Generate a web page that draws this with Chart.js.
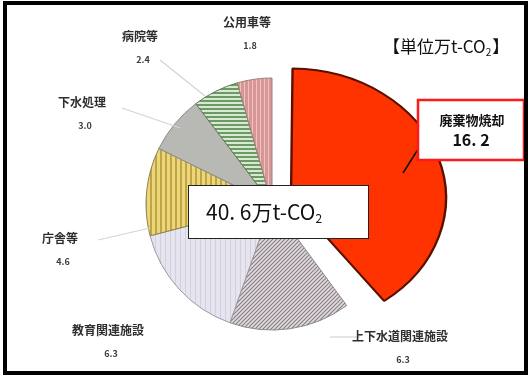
<!DOCTYPE html>
<html lang="ja">
<head>
<meta charset="utf-8">
<script src="https://cdn.jsdelivr.net/npm/chart.js@4"></script>
<style>
  html, body { margin: 0; padding: 0; background: #fff; }
  #wrap { width: 529px; height: 376px; }
</style>
</head>
<body>
<div id="wrap"><canvas id="pie" width="529" height="376"></canvas></div>
<script>
// 排出量の内訳（万t-CO2）
const categories = ['廃棄物焼却', '上下水道関連施設', '教育関連施設', '庁舎等', '下水処理', '病院等', '公用車等'];
const values = [16.2, 6.3, 6.3, 4.6, 3.0, 2.4, 1.8];

// ラベルの配置（名称の中心座標）
const labelPos = [null, [400, 336], [108, 330], [60, 238], [82, 102], [140, 36], [247, 22]];
// 引き出し線
const leaders = [null, [[330, 337], [360, 337]], null, [[98, 240], [150, 228]], [[122, 108], [180, 128]], [[160, 60], [205, 96]], null];

const JP = "'Noto Sans CJK JP', 'Noto Sans', sans-serif";

function makePattern(w, h, draw) {
  const c = document.createElement('canvas');
  c.width = w; c.height = h;
  const g = c.getContext('2d');
  draw(g, w, h);
  return g.createPattern(c, 'repeat');
}

const fills = [
  '#ff3300',
  makePattern(4, 4, (g) => {
    g.fillStyle = '#e2dce2'; g.fillRect(0, 0, 4, 4);
    g.strokeStyle = '#8a8084'; g.lineWidth = 1.2;
    g.beginPath(); g.moveTo(-1, 5); g.lineTo(5, -1); g.stroke();
    g.beginPath(); g.moveTo(-1, 1); g.lineTo(1, -1); g.stroke();
    g.beginPath(); g.moveTo(3, 5); g.lineTo(5, 3); g.stroke();
  }),
  makePattern(5, 5, (g) => {
    g.fillStyle = '#e6e5ef'; g.fillRect(0, 0, 5, 5);
    g.fillStyle = '#d2d0de'; g.fillRect(0, 0, 1, 5);
  }),
  makePattern(5, 5, (g) => {
    g.fillStyle = '#ecd778'; g.fillRect(0, 0, 5, 5);
    g.fillStyle = '#bfa548'; g.fillRect(0, 0, 2, 5);
  }),
  '#b8b8b4',
  makePattern(4, 4, (g) => {
    g.fillStyle = '#d6ead0'; g.fillRect(0, 0, 4, 4);
    g.fillStyle = '#6e9866'; g.fillRect(0, 0, 4, 2);
  }),
  makePattern(4, 4, (g) => {
    g.fillStyle = '#d99696'; g.fillRect(0, 0, 4, 4);
    g.fillStyle = '#ecc2c2'; g.fillRect(0, 0, 1, 4);
  })
];

function fmt(v) { return v.toFixed(1); }

// 切り出した扇形（廃棄物焼却）は横に広げて描く
const widenFirst = {
  id: 'widenFirst',
  afterDatasetsUpdate(chart) {
    const arc = chart.getDatasetMeta(0).data[0];
    if (!arc || arc._widened) return;
    arc.outerRadius -= 5;
    const draw = arc.draw;
    arc.draw = function (ctx) {
      const half = (this.startAngle + this.endAngle) / 2;
      const cx = this.x + Math.cos(half) * (this.options.offset || 0) / 4;
      ctx.save();
      ctx.translate(cx, 0);
      ctx.scale(1.2, 1);
      ctx.translate(-cx, 0);
      draw.call(this, ctx);
      ctx.restore();
    };
    arc._widened = true;
  }
};

const overlay = {
  id: 'overlay',
  beforeDraw(chart) {
    const ctx = chart.ctx;
    ctx.save();
    ctx.fillStyle = '#fff';
    ctx.fillRect(0, 0, chart.width, chart.height);
    ctx.restore();
  },
  afterDraw(chart) {
    const ctx = chart.ctx;
    ctx.save();

    // 引き出し線（薄いグレー）
    ctx.strokeStyle = '#d4d4d4';
    ctx.lineWidth = 1.2;
    leaders.forEach(l => {
      if (!l) return;
      ctx.beginPath(); ctx.moveTo(l[0][0], l[0][1]); ctx.lineTo(l[1][0], l[1][1]); ctx.stroke();
    });

    // 各項目の名称と値
    ctx.textAlign = 'center';
    ctx.textBaseline = 'middle';
    categories.forEach((name, i) => {
      const p = labelPos[i];
      if (!p) return;
      ctx.fillStyle = '#2e2e2e';
      ctx.font = `bold 12px ${JP}`;
      ctx.fillText(name, p[0], p[1]);
      ctx.font = `bold 9px ${JP}`;
      ctx.fillStyle = '#3c3c3c';
      ctx.fillText(fmt(values[i]), p[0] + 3, p[1] + 24);
    });

    // 単位
    ctx.fillStyle = '#111';
    ctx.font = `17px ${JP}`;
    ctx.textAlign = 'left';
    ctx.fillText('【単位万t-CO', 383, 47);
    let w = ctx.measureText('【単位万t-CO').width;
    ctx.font = `10px ${JP}`;
    ctx.fillText('2', 383 + w, 52);
    const w2 = ctx.measureText('2').width;
    ctx.font = `17px ${JP}`;
    ctx.fillText('】', 383 + w + w2 + 1, 47);

    // 廃棄物焼却の吹き出し
    ctx.strokeStyle = '#111';
    ctx.lineWidth = 1.5;
    ctx.beginPath(); ctx.moveTo(422, 143); ctx.lineTo(403, 173); ctx.stroke();
    ctx.fillStyle = '#fff';
    ctx.fillRect(418, 100, 106, 60);
    ctx.strokeStyle = '#ff1a1a';
    ctx.lineWidth = 2.5;
    ctx.strokeRect(418, 100, 106, 60);
    ctx.fillStyle = '#111';
    ctx.textAlign = 'center';
    ctx.font = `bold 13px ${JP}`;
    ctx.fillText(categories[0], 472, 120);
    ctx.font = `bold 16px ${JP}`;
    ctx.fillText(fmt(values[0]).replace('.', '. '), 471, 140);

    // 合計
    const total = values.reduce((a, b) => a + b, 0);
    ctx.fillStyle = '#fff';
    ctx.fillRect(188, 185, 180, 53);
    ctx.strokeStyle = '#222';
    ctx.lineWidth = 1;
    ctx.strokeRect(188.5, 185.5, 180, 53);
    ctx.fillStyle = '#111';
    ctx.textAlign = 'left';
    ctx.font = `21px ${JP}`;
    const t = fmt(total).replace('.', '. ') + '万t-CO';
    ctx.fillText(t, 206, 212);
    w = ctx.measureText(t).width;
    ctx.font = `12px ${JP}`;
    ctx.fillText('2', 206 + w, 218);

    // 外枠
    ctx.strokeStyle = '#000';
    ctx.lineWidth = 4;
    ctx.strokeRect(5, 3, 521, 370);
    ctx.restore();
  }
};

new Chart(document.getElementById('pie'), {
  type: 'pie',
  data: {
    labels: categories,
    datasets: [{
      data: values,
      backgroundColor: fills,
      borderColor: ['#5a1000', '#8c8c8c', '#9a9aa6', '#8c8050', '#8c8c8c', '#5c7a56', '#a08080'],
      borderWidth: [2, 1, 1, 1, 1, 1, 1],
      // ArcElement は offset の 1/4 だけ中心から離して描く
      offset: [80, 0, 0, 0, 0, 0, 0],
      radius: 126
    }]
  },
  options: {
    responsive: false,
    animation: false,
    layout: { padding: { left: 15, right: 0, top: 32, bottom: 0 } },
    plugins: {
      legend: { display: false },
      tooltip: { enabled: false }
    }
  },
  plugins: [widenFirst, overlay]
});
</script>
</body>
</html>
